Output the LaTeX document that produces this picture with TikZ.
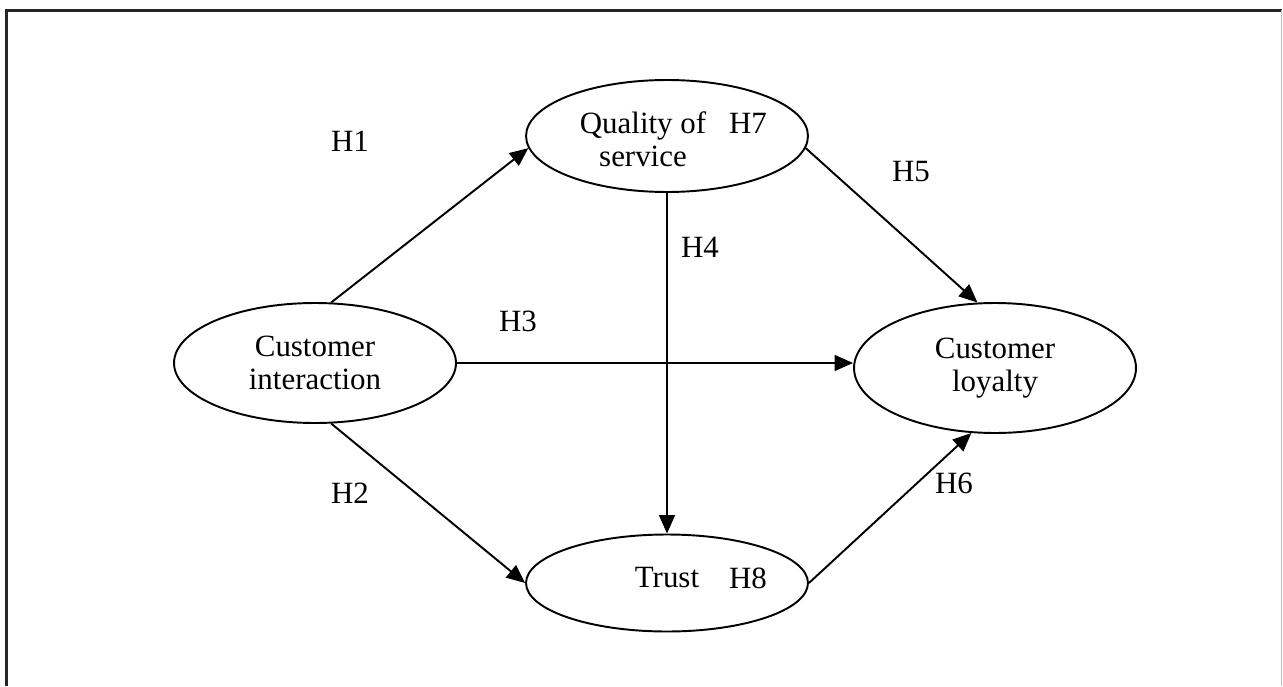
\documentclass[tikz,border=0pt]{standalone}
\usepackage{fontspec}
\setmainfont{Liberation Serif}
\usepackage{tikz}
\usetikzlibrary{arrows.meta, positioning, shapes.geometric}

\begin{document}
\begin{tikzpicture}[x=0.02cm, y=-0.02cm, font=\fontsize{17.6}{18.8}\selectfont]
    % Define styles
    \tikzstyle{construct}=[draw, ellipse, line width=1.1pt, inner sep=0pt, minimum width=5.64cm, align=center]
    \tikzstyle{hyp}=[inner sep=1pt]
    \tikzstyle{link}=[-{Triangle[length=10.5pt, width=9pt]}, line width=1.1pt]

    \useasboundingbox (0,0) rectangle (1283,686);

    % Outer frame (open at the bottom)
    \draw[line width=1.5pt, black!85] (6.5,686) -- (6.5,10.3) -- (1281.5,10.3);
    \draw[line width=0.8pt, black!25] (1281.5,10.3) -- (1281.5,686);

    % Constructs
    \node[construct, minimum height=2.4cm] (ci) at (315,363) {Customer\\interaction};
    \node[construct, minimum height=2.24cm] (qos) at (667,136) {};
    \node (qostext) at (643,139) [align=center] {Quality of\\service};
    \node[construct, minimum height=2.6cm] (cl) at (995,368) {Customer\\loyalty};
    \node[construct, minimum height=1.94cm] (trust) at (667,583) {};
    \node (trusttext) at (667,578) {Trust};

    % Paths
    \draw[link] (ci.75) -- (qos.185);
    \draw[link] (ci.285) -- (trust.west);
    \draw[link] (ci.east) -- (ci.east -| cl.west);
    \draw[link] (qos.south) -- (trust.north);
    \draw[link] (qos.355) -- (cl.105);
    \draw[link] (trust.east) -- (cl.250);

    % Hypothesis labels
    \node[hyp] (h1) at (350,141) {H1};
    \node[hyp] (h2) at (350,493) {H2};
    \node[hyp] (h3) at (518,321) {H3};
    \node[hyp] (h4) at (700,247) {H4};
    \node[hyp] (h5) at (911,172) {H5};
    \node[hyp] (h6) at (954,483) {H6};
    \node[hyp] (h7) at (748,123) {H7};
    \node[hyp] (h8) at (748,578) {H8};
\end{tikzpicture}
\end{document}
